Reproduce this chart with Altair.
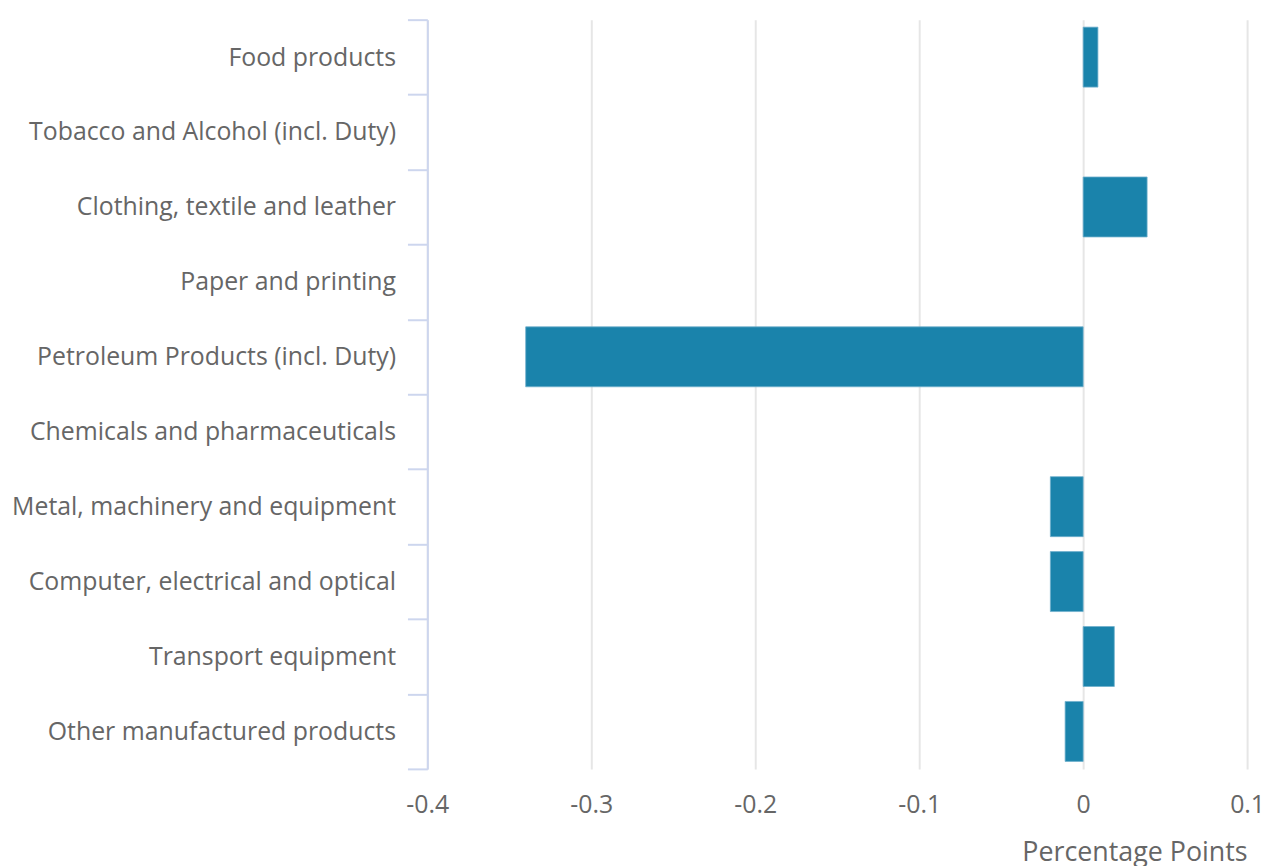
import altair as alt
import pandas as pd

categories = [
    "Food products",
    "Tobacco and Alcohol (incl. Duty)",
    "Clothing, textile and leather",
    "Paper and printing",
    "Petroleum Products (incl. Duty)",
    "Chemicals and pharmaceuticals",
    "Metal, machinery and equipment",
    "Computer, electrical and optical",
    "Transport equipment",
    "Other manufactured products",
]
values = [0.009, None, 0.039, None, -0.34, None, -0.02, -0.02, 0.019, -0.011]
x_ticks = [-0.4, -0.3, -0.2, -0.1, 0, 0.1]

df = pd.DataFrame({"category": categories, "value": values})

FONT = "Open Sans"
GRAY = "#666666"

chart = (
    alt.Chart(df)
    .mark_bar(color="#1a83ab", stroke="#6fb0cc", strokeWidth=0.8, height={"band": 0.8})
    .encode(
        y=alt.Y(
            "category:N",
            sort=categories,
            scale=alt.Scale(domain=categories, paddingInner=0, paddingOuter=0),
            axis=alt.Axis(
                title=None,
                tickBand="extent",
                tickSize=20,
                tickWidth=2,
                tickColor="#cdd6ee",
                domainColor="#cdd6ee",
                domainWidth=2,
                labelPadding=12,
                labelLimit=0,
                labelFont=FONT,
                labelFontSize=25,
                labelColor=GRAY,
                grid=False,
            ),
        ),
        x=alt.X(
            "value:Q",
            scale=alt.Scale(domain=[-0.4, 0.1], nice=False, zero=True),
            axis=alt.Axis(
                title="Percentage Points",
                values=x_ticks,
                labelExpr="datum.value == 0 ? '0' : (datum.value < 0 ? '-' : '') + format(abs(datum.value), '.1f')",
                labelFlush=False,
                domain=False,
                ticks=False,
                tickSize=0,
                labelPadding=24,
                labelFont=FONT,
                labelFontSize=25,
                labelColor=GRAY,
                titleFont=FONT,
                titleFontSize=27,
                titleFontWeight="normal",
                titleColor=GRAY,
                titleAnchor="end",
                titlePadding=22,
                grid=True,
                gridColor="#e6e6e6",
                gridWidth=2,
            ),
        ),
    )
    .properties(
        width=825,
        height=754,
        autosize=alt.AutoSizeParams(type="none"),
        padding={"left": 422, "top": 9, "right": 17, "bottom": 95},
    )
    .configure_view(stroke=None)
)

chart.save("out.html", embed_options={"renderer": "svg", "actions": False})
